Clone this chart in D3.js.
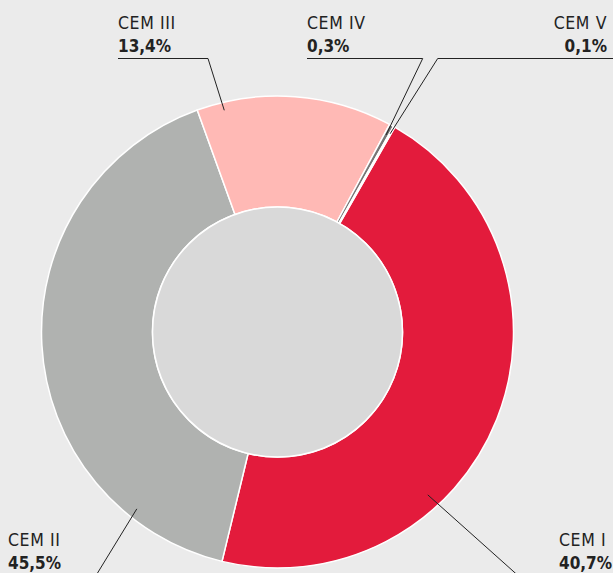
<!DOCTYPE html>
<html>
<head>
<meta charset="utf-8">
<script src="https://cdn.jsdelivr.net/npm/d3@7"></script>
<style>
  html, body { margin: 0; padding: 0; background: #ebebeb; }
  svg { display: block; }
  text { font-family: "DejaVu Sans Condensed", "DejaVu Sans", sans-serif; fill: #222; }
</style>
</head>
<body>
<svg id="chart"></svg>
<script>
// slice order clockwise, as drawn
const categories = ['CEM I', 'CEM II', 'CEM III', 'CEM IV', 'CEM V'];
// angular share of each slice as measured in the picture (%)
const sliceShares = [45.5, 40.7, 13.4, 0.3, 0.1];
// percentages printed in the labels
const labelTexts = ['40,7%', '45,5%', '13,4%', '0,3%', '0,1%'];
const colors = ['#e31b3c', '#b0b2b0', '#ffb9b5', '#767676', '#9c9c9c'];

const width = 613;
const height = 573;
const cx = 277.5;
const cy = 332;
const outerR = 236;
const innerR = 125;
const startDeg = 29.8;

// label layout: anchor of text block, and where the leader meets the ring
const labels = [
  { x: 559, y: 546, anchor: 'start', lineX0: 518, lineX1: 518, deg: 137.3, r: 221.6, ul: null },
  { x: 8, y: 546, anchor: 'start', lineX0: 96, lineX1: 96, deg: 218.5, r: 226, ul: null },
  { x: 118, y: 29, anchor: 'start', lineX0: 118, lineX1: 208, deg: 346.5, r: 228, ul: 'end' },
  { x: 307, y: 29, anchor: 'start', lineX0: 307, lineX1: 422.7, deg: 28.85, r: 225, ul: 'end' },
  { x: 607, y: 29, anchor: 'end', lineX0: 437.7, lineX1: 613, deg: 29.6, r: 228, ul: 'start' }
];

const svg = d3.select('#chart')
  .attr('width', width)
  .attr('height', height);

svg.append('rect')
  .attr('width', width)
  .attr('height', height)
  .attr('fill', '#ebebeb');

const g = svg.append('g')
  .attr('transform', `translate(${cx}, ${cy})`);

const rad = d => d * Math.PI / 180;

const pie = d3.pie()
  .sort(null)
  .value(d => d)
  .startAngle(rad(startDeg))
  .endAngle(rad(startDeg) + 2 * Math.PI);

const arc = d3.arc()
  .innerRadius(innerR)
  .outerRadius(outerR);

g.selectAll('path.slice')
  .data(pie(sliceShares))
  .enter()
  .append('path')
  .attr('class', 'slice')
  .attr('d', arc)
  .attr('fill', (d, i) => colors[i])
  .attr('stroke', '#fff')
  .attr('stroke-width', 1.5);

g.append('circle')
  .attr('r', innerR)
  .attr('fill', '#d9d9d9')
  .attr('stroke', '#fff')
  .attr('stroke-width', 1.5);

// labels and leader lines
const pctGap = 23;
const ulGap = 29.5;

labels.forEach((l, i) => {
  svg.append('text')
    .attr('x', l.x)
    .attr('y', l.y)
    .attr('text-anchor', l.anchor)
    .attr('font-size', 17.5)
    .attr('letter-spacing', 0.6)
    .text(categories[i]);

  svg.append('text')
    .attr('x', l.x)
    .attr('y', l.y + pctGap)
    .attr('text-anchor', l.anchor)
    .attr('font-size', 17)
    .attr('font-weight', 'bold')
    .text(labelTexts[i]);

  const ulY = l.y + ulGap;
  svg.append('line')
    .attr('x1', l.lineX0)
    .attr('x2', l.lineX1)
    .attr('y1', ulY)
    .attr('y2', ulY)
    .attr('stroke', '#222')
    .attr('stroke-width', 1);

  const px = cx + l.r * Math.sin(rad(l.deg));
  const py = cy - l.r * Math.cos(rad(l.deg));
  const sx = l.ul === 'start' ? l.lineX0 : l.lineX1;
  svg.append('line')
    .attr('x1', sx)
    .attr('y1', ulY)
    .attr('x2', px)
    .attr('y2', py)
    .attr('stroke', '#222')
    .attr('stroke-width', 1);
});
</script>
</body>
</html>
